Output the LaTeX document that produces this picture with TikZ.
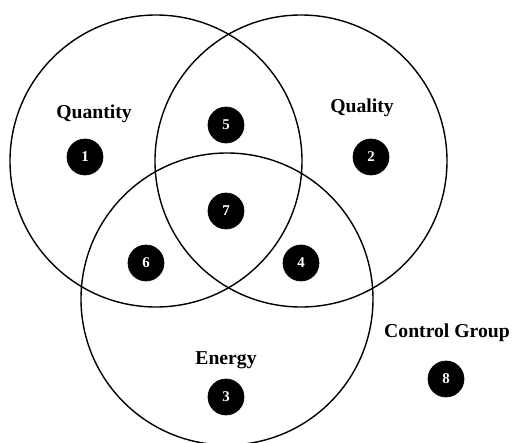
\documentclass[tikz,border=0pt]{standalone}
\usepackage{fontspec}
\setmainfont{Liberation Serif}

\begin{document}
\begin{tikzpicture}[
  x=0.02cm,
  y=-0.02cm,
  set/.style={draw=black, line width=0.8pt},
  badge/.style={circle, fill=black, draw=black, minimum size=0.72cm, inner sep=0pt,
                text=white, font=\bfseries\fontsize{8.5}{10}\selectfont},
  setlabel/.style={font=\bfseries\fontsize{11.2}{13}\selectfont, inner sep=0pt}
]
\useasboundingbox (0,0) rectangle (512,443);

\coordinate (cquant)  at (156,161);
\coordinate (cqual)   at (301,161);
\coordinate (cenergy) at (227,299);

% The three overlapping sets.
\draw[set] (cquant)  circle[radius=146];
\draw[set] (cqual)   circle[radius=146];
\draw[set] (cenergy) circle[radius=146];

% Set names.
\node[setlabel] (lquant)   at (94,114)  {Quantity};
\node[setlabel] (lqual)    at (362,108) {Quality};
\node[setlabel] (lenergy)  at (226,360) {Energy};
\node[setlabel] (lcontrol) at (447,333) {Control Group};

% Numbered regions.
\node[badge] (g1) at (85,157)  {1};
\node[badge] (g2) at (371,157) {2};
\node[badge] (g3) at (226,397) {3};
\node[badge] (g4) at (301,263) {4};
\node[badge] (g5) at (226,125) {5};
\node[badge] (g6) at (146,263) {6};
\node[badge] (g7) at (226,211) {7};
\node[badge] (g8) at (446,379) {8};
\end{tikzpicture}
\end{document}
